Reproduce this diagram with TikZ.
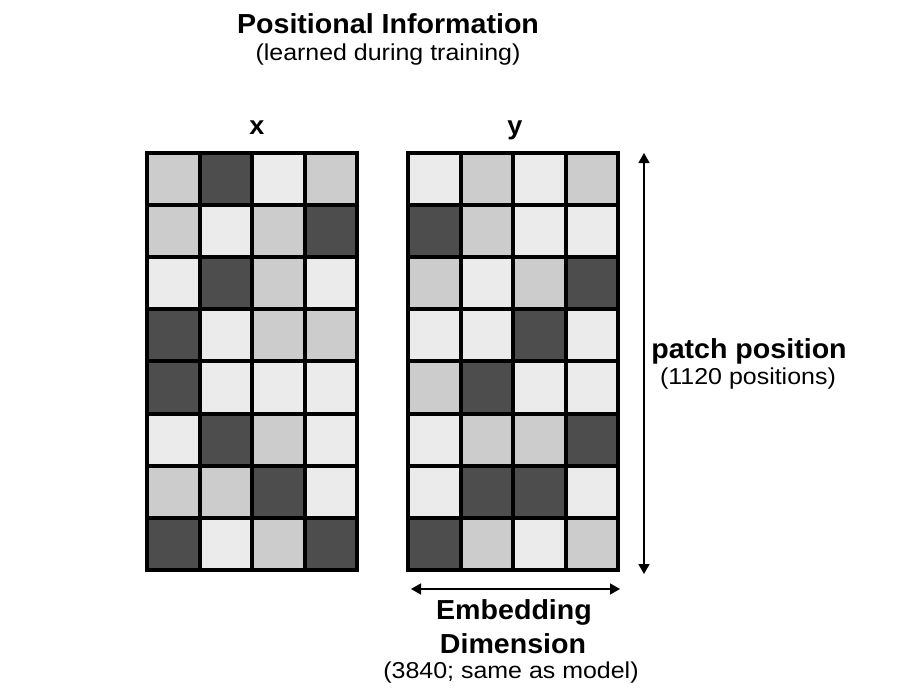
\documentclass[tikz,border=0pt]{standalone}
\usepackage{fontspec}
\setmainfont{Liberation Sans}
\newfontfamily\boldwide[FakeStretch=1.04]{Liberation Sans Bold}
\newfontfamily\regwide[FakeStretch=1.085]{Liberation Sans}
\usetikzlibrary{arrows.meta}
\definecolor{cL}{HTML}{EBEBEB}
\definecolor{cM}{HTML}{CCCCCC}
\definecolor{cD}{HTML}{4D4D4D}
\tikzset{
  cell/.style={draw=black, line width=4pt, inner sep=0pt, minimum width=52.5pt, minimum height=52.1pt},
  titletext/.style={font=\boldwide\fontsize{27.5}{32}\selectfont, inner sep=0pt, anchor=base},
  subtext/.style={font=\regwide\fontsize{23}{27}\selectfont, inner sep=0pt, anchor=base},
  axislbl/.style={font=\boldwide\fontsize{26}{30}\selectfont, inner sep=0pt, anchor=base},
  dimarrow/.style={line width=1.5pt, {Triangle[length=10pt,width=11pt]}-{Triangle[length=10pt,width=11pt]}}
}
\begin{document}
\begin{tikzpicture}[x=1pt,y=-1pt]
\useasboundingbox (0,0) rectangle (900,699);
\fill[white] (0,0) rectangle (900,699);
% left grid (x)
\foreach \r/\row in {1/{M,D,L,M},2/{M,L,M,D},3/{L,D,M,L},4/{D,L,M,M},5/{D,L,L,L},6/{L,D,M,L},7/{M,M,D,L},8/{D,L,M,D}}{
  \foreach \c [count=\ci] in \row {
    \node[cell, fill=c\c] (x-\r-\ci) at ({147+52.5*(\ci-0.5)},{153+52.1*(\r-0.5)}) {};
  }
}
% right grid (y)
\foreach \r/\row in {1/{L,M,L,M},2/{D,M,L,L},3/{M,L,M,D},4/{L,L,D,L},5/{M,D,L,L},6/{L,M,M,D},7/{L,D,D,L},8/{D,M,L,M}}{
  \foreach \c [count=\ci] in \row {
    \node[cell, fill=c\c] (y-\r-\ci) at ({408+52.5*(\ci-0.5)},{153+52.1*(\r-0.5)}) {};
  }
}
% titles
\node[titletext] (title) at (388,33) {Positional Information};
\node[subtext] (subtitle) at (388,60) {(learned during training)};
\node[axislbl] (xl) at (257,134) {x};
\node[axislbl] (yl) at (515,134) {y};
% vertical arrow
\coordinate (vtop) at (644,153);
\coordinate (vbot) at (644,574);
\draw[dimarrow] (vtop) -- (vbot);
\node[titletext] (pp) at (749,358) {patch position};
\node[subtext] (ppn) at (748,384) {(1120 positions)};
% horizontal arrow
\coordinate (hl) at (411,589);
\coordinate (hr) at (620,589);
\draw[dimarrow] (hl) -- (hr);
\node[titletext] (ed1) at (514,619) {Embedding};
\node[titletext] (ed2) at (513,653) {Dimension};
\node[subtext] (edn) at (511,678) {(3840; same as model)};
\end{tikzpicture}
\end{document}
